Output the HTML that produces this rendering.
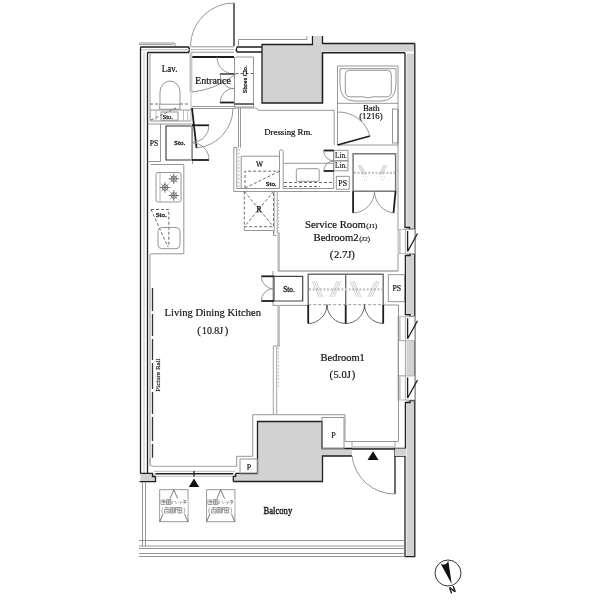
<!DOCTYPE html>
<html><head><meta charset="utf-8">
<style>
html,body{margin:0;padding:0;background:#fff;width:600px;height:600px;overflow:hidden}
svg{display:block;will-change:transform}
text{font-family:"Liberation Serif",serif;fill:#111;stroke:#111;stroke-width:0.2}
.k{stroke:#1e1e1e;stroke-width:1.3;fill:none}
.kb{stroke:#1e1e1e;stroke-width:1.8;fill:none}
.g{stroke:#8a8a8a;stroke-width:0.9;fill:none}
.gl{stroke:#b4b4b4;stroke-width:0.9;fill:none}
.d{stroke:#6a6a6a;stroke-width:1;fill:none;stroke-dasharray:3 2}
.gf{fill:#d2d2d2}
</style></head><body>
<svg width="600" height="600" viewBox="0 0 600 600">
<!-- ===== TOP WALL ===== -->
<g id="top">
  <path class="g" d="M139,43 H175 V46 M139,44.6 H173.5"/>
  <path class="k" d="M140.5,47 H188.5 Q190.5,49.7 188.5,52.5 H147.5"/>
  <path class="gl" d="M141,49.8 H190"/>
  <!-- entry door -->
  <path class="k" d="M234,3 V46"/>
  <path class="g" d="M190.5,46 A43.5,43.5 0 0 1 234,3"/>
  <path class="g" d="M190.5,46.8 H234 M190.5,52.2 H234"/><path class="gl" d="M190.5,49.5 H234"/>
  <path class="kb" d="M192,57 H234"/>
  <!-- right of door -->
  <path class="k" d="M262,47 H237 Q235.5,49.5 237,52 H262"/>
  <path class="g" d="M238.5,46.5 V39.5 H307 V36"/>
  <!-- shaft -->
  <rect class="gf" x="262" y="44.5" width="60.5" height="58.5"/>
  <rect x="313.5" y="36" width="8.5" height="9" fill="#d6d6d6"/>
  <path class="k" d="M312.5,36 V44.5 H262 V103 H322.5 V53"/>
  <rect class="gf" x="322.5" y="44" width="92" height="7.6"/>
  <path class="k" d="M322.5,36 V43.5 H414.8"/>
  <path class="k" d="M322.5,103 V52.75 H405" stroke-width="1.5"/>
</g>
<!-- ===== LEFT WALL ===== -->
<g id="left">
  <path class="k" d="M140.5,47 V473.5"/>
  <path class="k" d="M147.5,52.5 V473.5"/>
  <path class="g" d="M150,52.5 V121 M150,254 V466"/>
  <path class="gl" d="M144,52 V473"/>
  <!-- picture rail -->
  <path stroke="#333" stroke-width="1.3" fill="none" d="M152.5,288 V311 M152.5,314 V336 M152.5,339 V360 M152.5,363 V389 M152.5,392 V414 M152.5,417 V441 M152.5,444 V457.7"/>
  <text font-size="7" transform="translate(160 391.7) rotate(-90)" style="stroke-width:0.15">Picture Rail</text>
  <!-- wall stub bottom-left -->
  <rect class="gf" x="140.5" y="473.5" width="15" height="8.2"/>
  <path class="k" d="M140.3,473.3 H152.5 V476.5 H155.5 V481.7 H139.5" stroke-width="1.4"/>
</g>
<!-- ===== RIGHT WALL ===== -->
<g id="right">
  <rect class="gf" x="406.5" y="53.5" width="7.8" height="503"/>
  <path class="k" d="M414.8,43.5 V556.7 H405 V456" stroke-width="1.4"/>
  <!-- solid sections -->
  <path class="k" d="M405,52.75 V227.5 H409.5 V229.5 H414.8" stroke-width="1.5"/>
  <path class="k" d="M414.8,253.5 H410 V255.5 H405.4 V314.6 H410 V316.7 H414.8" stroke-width="1.4"/>
  <path class="k" d="M414.8,400.5 H410 V402.5 H405.4 V448.5 H395 V456 H405" stroke-width="1.4"/>
  <!-- windows -->
  <g id="win1">
    <rect x="398" y="229.5" width="16.8" height="24" fill="#fff" stroke="#aaa" stroke-width="0.8"/>
    <rect x="398.3" y="230" width="2.4" height="23" fill="#c8c8c8"/>
    <path stroke="#999" stroke-width="0.8" fill="none" d="M405.4,229.5 V253.5"/>
    <path class="k" d="M407.6,231 V251.5 L417.5,233.5" stroke-width="1.4"/>
  </g>
  <g transform="translate(0,87.2)">
    <rect x="398" y="229.5" width="16.8" height="24" fill="#fff" stroke="#aaa" stroke-width="0.8"/>
    <rect x="398.3" y="230" width="2.4" height="23" fill="#c8c8c8"/>
    <path stroke="#999" stroke-width="0.8" fill="none" d="M405.4,229.5 V253.5"/>
    <path class="k" d="M407.6,231 V251.5 L417.5,233.5" stroke-width="1.4"/>
  </g>
  <rect x="398" y="340.8" width="7.4" height="35" fill="#fff" stroke="#aaa" stroke-width="0.8"/>
  <path stroke="#aaa" stroke-width="0.8" fill="none" d="M405.4,340.8 V375.8 M414.8,340.8 V375.8"/>
  <g transform="translate(0,146.5)">
    <rect x="398" y="229.5" width="16.8" height="24" fill="#fff" stroke="#aaa" stroke-width="0.8"/>
    <rect x="398.3" y="230" width="2.4" height="23" fill="#c8c8c8"/>
    <path stroke="#999" stroke-width="0.8" fill="none" d="M405.4,229.5 V253.5"/>
    <path class="k" d="M407.6,231 V251.5 L417.5,233.5" stroke-width="1.4"/>
  </g>
</g>
<!-- ===== BOTTOM: LDK wall / pillar / balcony ===== -->
<g id="bottom">
  <rect class="gf" x="257.5" y="421.5" width="64.5" height="60"/>
  <rect class="gf" x="234" y="474" width="24" height="7.5"/>
  <rect class="gf" x="322" y="448.5" width="30" height="7.5"/>
  <rect class="gf" x="395" y="448.5" width="11" height="7.5"/>
  <path class="k" d="M235.7,473.4 H257.5 V421.5 H322 V448.5 H352" stroke-width="1.4"/>
  <path class="k" d="M233.3,481.5 H322.5 V456 H352" stroke-width="1.4"/>
  <path class="k" d="M235.7,473.4 V476.3 H233.3 V481.5" stroke-width="1.4"/>
  <path stroke="#222" stroke-width="1.4" fill="none" d="M155.5,473.8 H233.3"/>
  <path stroke="#999" stroke-width="0.9" fill="none" d="M150,458 V463.5 Q150,466.3 153,466.3 H236.7"/>
  <path stroke="#aaa" stroke-width="0.8" fill="none" d="M154,471.3 H235 M155.5,476.3 H233"/>
  <path class="k" d="M194,471 V476.5" stroke-width="1.1"/>
  <path fill="#111" d="M194,478.5 L188.8,487 L199.2,487 Z"/>
  <!-- P boxes -->
  <rect x="240" y="459" width="17.5" height="15" fill="#fff" class="g"/>
  <text x="249" y="470" font-size="8" text-anchor="middle" style="stroke-width:0.2">P</text>
  <rect x="322" y="417.5" width="22" height="31" fill="#fff" class="g"/>
  <text x="333.5" y="437.5" font-size="8" text-anchor="middle" style="stroke-width:0.2">P</text>
  <path class="g" d="M236.7,466.3 V456.3 H252.7 V414.7 H345 V441.5"/>
  <!-- Bedroom1 bottom sill -->
  <path class="g" d="M345,441.5 H398.5"/>
  <path stroke="#999" stroke-width="0.9" fill="none" d="M352,442 V448 H395 V442"/>
  <path stroke="#bbb" stroke-width="0.8" fill="none" d="M353,446.5 H394"/>
  <path stroke="#222" stroke-width="1.3" fill="none" d="M352,449 H395"/>
  <!-- balcony door -->
  <path class="k" d="M395,456 V494" stroke-width="1.4"/>
  <path class="g" d="M352,456 A43,43 0 0 0 395,494" stroke="#666"/>
  <path fill="#111" d="M373,451.3 L367.5,460 L378.5,460 Z"/>
  <!-- balcony -->
  <path class="g" d="M142.5,482 V546 M145.5,482 V546"/>
  <path class="g" d="M139,540.5 H405 M139,546 H405 M139,548.5 H405 M139,553.5 H405 M139,556.5 H405"/>
  <text x="263.6" y="514.3" font-size="9.6" textLength="28.6" lengthAdjust="spacingAndGlyphs" style="stroke-width:0.35">Balcony</text>
  <!-- hatches -->
  <rect x="159.7" y="489.7" width="28.3" height="32" fill="none" stroke="#8c8c8c" stroke-width="0.9"/>
  <path d="M159.7,521.7 L173.8,489.9 L188.0,521.7" fill="none" stroke="#555" stroke-width="0.8"/>
  <rect x="160.5" y="498.5" width="27" height="15.5" fill="#fff"/>
  <g fill="none" stroke="#7a7a7a" stroke-width="0.7">
  <path d="M161.0,499.5 v5 h4.5 M162.0,500 h3 v3 h-2 v-3 M162.0,501.5 h3"/>
  <path d="M166.5,499.5 h4.5 v5 h-4.5 z M166.5,501.2 h4.5 M166.5,502.9 h4.5 M168.7,499.5 v5"/>
  <path d="M173.0,501 l-1.2,3 M175.0,501 l1.5,3" stroke-width="0.6"/>
  <path d="M178.0,502 l0.6,1 M179.5,501.5 l0.6,1 M181.3,501 q0.5,2 -1.5,3.5" stroke-width="0.6"/>
  <path d="M183.0,500.5 h3 q0,2 -2,4 M182.5,502.5 h4 M184.5,500 v2" stroke-width="0.6"/>
  <path d="M162.5,507.5 q-1.5,3 0,6" stroke-width="0.6"/>
  <path d="M164.5,507.8 h4.5 M166.7,507 v1.5 M164.5,509.5 h4.5 v3.5 h-4.5 z M165.5,511.3 h2.5"/>
  <path d="M170.0,507.5 h4.5 v5.5 h-4.5 z M170.0,509.3 h4.5 M170.0,511.1 h4.5 M172.2,507.5 v5.5"/>
  <path d="M175.5,507.5 v5.5 M175.5,507.5 h1.8 v2 h-1.8 M177.8,507.5 h4 v5.5 h-4 z M177.8,510.2 h4 M179.8,507.5 v5.5"/>
  <path d="M184.0,507.5 q1.5,3 0,6" stroke-width="0.6"/>
  </g>
  <rect x="206.6" y="489.7" width="28.3" height="32" fill="none" stroke="#8c8c8c" stroke-width="0.9"/>
  <path d="M206.6,521.7 L220.7,489.9 L234.9,521.7" fill="none" stroke="#555" stroke-width="0.8"/>
  <rect x="207.4" y="498.5" width="27" height="15.5" fill="#fff"/>
  <g fill="none" stroke="#7a7a7a" stroke-width="0.7">
  <path d="M207.9,499.5 v5 h4.5 M208.9,500 h3 v3 h-2 v-3 M208.9,501.5 h3"/>
  <path d="M213.4,499.5 h4.5 v5 h-4.5 z M213.4,501.2 h4.5 M213.4,502.9 h4.5 M215.6,499.5 v5"/>
  <path d="M219.9,501 l-1.2,3 M221.9,501 l1.5,3" stroke-width="0.6"/>
  <path d="M224.9,502 l0.6,1 M226.4,501.5 l0.6,1 M228.2,501 q0.5,2 -1.5,3.5" stroke-width="0.6"/>
  <path d="M229.9,500.5 h3 q0,2 -2,4 M229.4,502.5 h4 M231.4,500 v2" stroke-width="0.6"/>
  <path d="M209.4,507.5 q-1.5,3 0,6" stroke-width="0.6"/>
  <path d="M211.4,507.8 h4.5 M213.6,507 v1.5 M211.4,509.5 h4.5 v3.5 h-4.5 z M212.4,511.3 h2.5"/>
  <path d="M216.9,507.5 h4.5 v5.5 h-4.5 z M216.9,509.3 h4.5 M216.9,511.1 h4.5 M219.1,507.5 v5.5"/>
  <path d="M222.4,507.5 v5.5 M222.4,507.5 h1.8 v2 h-1.8 M224.7,507.5 h4 v5.5 h-4 z M224.7,510.2 h4 M226.7,507.5 v5.5"/>
  <path d="M230.9,507.5 q1.5,3 0,6" stroke-width="0.6"/>
  </g>
</g>
<!-- ===== TOP-LEFT: Lav / Entrance / Sto / kitchen ===== -->
<g id="tl">
  <!-- Lav right wall -->
  <rect x="189.4" y="53" width="3" height="39" fill="#c6c6c6"/>
  <path class="g" d="M192,92 Q215,90 236,74"/>
  <!-- toilet -->
  <path class="g" d="M160,104 V92 A10,11 0 0 1 180,92 V104" stroke-width="1"/>
  <rect x="159.7" y="104.2" width="20.2" height="5" class="g"/>
  <path class="d" d="M150,104 H159.5 M180,104 H190" stroke-width="0.8"/>
  <path class="g" d="M150,110 H191 M150,121 H191"/>
  <path class="gl" d="M150.5,110 V121 M156,110 V121 M183.5,110 V121 M187.7,110 V121 M191,92 V121"/>
  <rect x="161" y="112" width="17" height="8.2" fill="#fff" class="g"/>
  <text x="167.7" y="118.6" font-size="6.6" text-anchor="middle" style="stroke-width:0.25">Sto.</text>
  <path class="d" d="M151,120 L176,108" stroke-width="0.7"/>
  <!-- shoes closet doors -->
  <path class="kb" d="M217,57 H234" stroke-width="1.5"/>
  <path class="g" d="M217,57 A17,17 0 0 0 234,74"/>
  <path class="k" d="M220,74 H234.5"/>
  <path class="d" d="M235.5,73.5 H253" stroke-width="0.7" stroke-dasharray="2 1.5"/>
  <path class="g" d="M220,74 A15,15 0 0 0 235,89"/>
  <path class="kb" d="M220,102.5 H234" stroke-width="1.5"/>
  <path class="g" d="M220,102.5 A15,15 0 0 1 235,88"/>
  <!-- shoes closet -->
  <path class="g" d="M234.5,57 V107 M235.5,57 H253.5 V107 H234.5"/>
  <text font-size="6.4" text-anchor="middle" transform="translate(246.6 79.3) rotate(-90)" style="stroke-width:0.25">Shoes Clo.</text>
  <!-- entrance step -->
  <path class="g" d="M192,106.5 H236 M192,108.5 H236"/>
  <!-- hall door -->
  <path class="kb" d="M192,108 L196.5,148" stroke-width="1.5"/>
  <path class="g" d="M196.5,148 A40,40 0 0 0 233,108"/>
  <!-- PS / Sto boxes -->
  <path class="g" d="M147.5,124 H192.5 V164 M147.5,161.5 H160.5 V124"/>
  <text x="153.9" y="145.8" font-size="7.6" text-anchor="middle" style="stroke-width:0.2">PS</text>
  <path d="M191.7,126 H166 V160 H191.7" fill="none" stroke="#333" stroke-width="1.1"/><path d="M191.7,126 V160" class="g"/>
  <text x="179.6" y="145" font-size="7" text-anchor="middle" style="stroke-width:0.3">Sto.</text>
  <path class="kb" d="M192,125.3 H209" stroke-width="1.5"/>
  <path class="g" d="M209,125.3 A16.5,16.5 0 0 1 193,142"/>
  <path class="kb" d="M192,160 H209" stroke-width="1.5"/>
  <path class="g" d="M209,160 A16.5,16.5 0 0 0 193,143"/>
  <!-- kitchen counter -->
  <path class="g" d="M150.5,253.8 H183.8 V164.5 H150.5"/>
  <rect x="156" y="172.5" width="25" height="29.5" rx="2" class="g"/>
  <path class="gl" d="M160,173 V201.5"/>
  <g stroke="#555" stroke-width="0.8" fill="none">
    <circle cx="173.8" cy="178.8" r="2.8"/><circle cx="165" cy="187.5" r="2.8"/><circle cx="173.8" cy="195.5" r="2.8"/>
    <path d="M173.8,173.5 V184 M168.5,178.8 H179 M165,182.2 V192.8 M159.7,187.5 H170.3 M173.8,190.2 V200.8 M168.5,195.5 H179"/>
    <path d="M170,175 L177.6,182.6 M177.6,175 L170,182.6 M161.2,183.7 L168.8,191.3 M168.8,183.7 L161.2,191.3 M170,191.7 L177.6,199.3 M177.6,191.7 L170,199.3" stroke-width="0.6"/>
  </g>
  <path class="d" d="M151,209.5 H168.8 V247 M151,209.5 L168,247" stroke-width="0.8"/>
  <text x="161.2" y="216.8" font-size="7" text-anchor="middle" style="stroke-width:0.3">Sto.</text>
  <rect x="158" y="227.5" width="22" height="21.2" rx="4" class="g" stroke-width="1"/>
</g>
<!-- ===== DRESSING AREA ===== -->
<g id="dress">
  <path class="k" d="M234.5,104 H253.5" stroke-width="1.1"/>
  <path class="g" d="M236,108 H256.5 L258,110.3 H334.2 V145 M337.5,110.3 V145 H398"/>
  <path class="g" d="M238.5,108 V147.5 M240.5,108 V147.5"/>
  <!-- closet U -->
  <path class="g" d="M233.8,147.5 V191.5 H350 M236.8,147.5 V188.5 H241.2 M233.8,147.5 H236.8"/>
  <path d="M239,149 V188" fill="none" stroke="#9a9a9a" stroke-width="0.7" stroke-dasharray="2 1.6"/>
  <path class="g" d="M241.2,188.5 V156.2 H279.5 M241.2,188.5 H279.5"/>
  <path class="g" d="M279.5,188.5 V151.5 A1.8,1.8 0 0 1 283.2,151.5 V188.5 H334"/>
  <text x="259.5" y="166.5" font-size="7.5" text-anchor="middle">W</text>
  <path class="d" d="M245,188 V171.2 H279.5 M245,188 L279.5,171.2" stroke-width="0.8"/>
  <text x="271.2" y="185.6" font-size="6.8" text-anchor="middle" style="stroke-width:0.3">Sto.</text>
  <!-- right counter -->
  <path class="g" d="M283.2,163.3 H333.7 M333.7,150.3 V188.5"/>
  <rect x="296.3" y="168.7" width="22.9" height="12.6" rx="1.5" class="g"/>
  <path class="d" d="M284,182.5 H333" stroke-width="0.9"/>
  <path class="d" d="M284,186.5 H320" stroke-width="0.5" stroke="#aaa"/>
  <!-- Lin boxes -->
  <rect x="333.7" y="150.3" width="14.3" height="10.5" class="g"/>
  <rect x="333.7" y="160.8" width="14.3" height="10" class="g"/>
  <text x="335" y="158" font-size="7.8" textLength="11.8" lengthAdjust="spacingAndGlyphs" style="stroke-width:0.15">Lin.</text>
  <text x="335" y="168" font-size="7.8" textLength="11.8" lengthAdjust="spacingAndGlyphs" style="stroke-width:0.15">Lin.</text>
  <path class="kb" d="M323.7,150.5 H333.7" stroke-width="1.5"/>
  <path class="g" d="M323.7,150.5 A10.5,10.5 0 0 0 333.7,161"/>
  <path class="kb" d="M323.7,171 H333.7" stroke-width="1.5"/>
  <path class="g" d="M323.7,171 A10,10 0 0 1 333.7,161"/>
  <rect x="336.3" y="176.3" width="12.9" height="12.9" class="g"/>
  <text x="342.7" y="186" font-size="7.8" text-anchor="middle" style="stroke-width:0.2">PS</text>
  <!-- R box -->
  <path class="d" d="M244.3,191.5 V226.7 H273.5 V191.5 M244.3,191.5 L273.5,226.7 M273.5,191.5 L244.3,226.7" stroke-width="0.9"/>
  <text x="259" y="212" font-size="7.5" text-anchor="middle" style="stroke-width:0.25">R</text>
  <path class="g" d="M244.3,226.7 V230.5 H273.5 V235.5 H276.5"/>
  <!-- partition LDK / Bedroom2 -->
  <path stroke="#9a9a9a" stroke-width="0.9" fill="none" d="M274.2,191.5 V233.5 M277.2,191.5 V233 H280"/>
  <rect x="277.4" y="233" width="2.6" height="38" fill="#c2c2c2"/>
  <path stroke="#999" stroke-width="1.1" stroke-dasharray="1 2.4" fill="none" d="M278.6,200 V231"/>
  <!-- bath -->
  <path class="g" d="M337.5,66 H398 V145 M337.5,66 V110"/>
  <path class="g" d="M337.7,103.3 H398.4 M340,68.7 H396"/>
  <path class="g" d="M340,68.7 V84 Q340,101 355,101 H381 Q396,101 396,84 V68.7"/>
  <path class="g" d="M349.3,70.3 H387.3 Q391.3,70.3 391.3,74.3 V91.8 Q391.3,96.8 386.3,96.8 H373 Q368,99.2 363,96.8 H350.3 Q345.3,96.8 345.3,91.8 V74.3 Q345.3,70.3 349.3,70.3 Z"/>
  <rect x="392.5" y="109" width="5.5" height="34" class="g"/>
  <path class="kb" d="M337.5,145 L370,136" stroke-width="1.5"/>
  <path class="g" d="M337.5,112 A33,33 0 0 1 370,136"/>
</g>
<!-- ===== BEDROOMS ===== -->
<g id="beds">
  <!-- Bedroom2 closet -->
  <rect x="353.1" y="153.8" width="42.5" height="37.4" fill="none" stroke="#6e6e6e" stroke-width="1.4"/>
  <path stroke="#c4c4c4" stroke-width="2.2" stroke-dasharray="2 1.6" fill="none" d="M354,172.8 H395"/>
  <g stroke="#b0b0b0" stroke-width="0.6" fill="none">
    <path d="M358,165 L363,175 M359.5,165 L364.5,175 M361,165 L366,175 M384,165 L379,175 M385.5,165 L380.5,175 M387,165 L382,175"/>
    <path d="M363,177 H369 M364,180 H368 M380,177 H386 M381,180 H385" stroke-dasharray="1 1"/>
  </g>
  <path class="kb" d="M353.1,191.2 V213" stroke-width="1.5"/>
  <path class="g" d="M353.1,213 A22,22 0 0 0 374.5,191.2" stroke="#555"/>
  <path class="kb" d="M395.6,191.2 L393.5,213" stroke-width="1.5"/>
  <path class="g" d="M393.5,213 A22,22 0 0 1 374.5,191.2" stroke="#555"/>
  <path class="g" d="M398,110 V229 M398,254 V271 M398.5,305 V441 M383.2,305 H398.5"/>
  <path stroke="#a8a8a8" stroke-width="1.5" fill="none" d="M278,271 H398"/>
  <!-- Sto (LDK side) -->
  <path class="g" d="M273,271 V305.4 H308"/>
  <path stroke="#444" stroke-width="1.2" fill="none" d="M274,276.3 H302.7 V301 H274 Z"/>
  <text x="289" y="291.7" font-size="7.2" text-anchor="middle" style="stroke-width:0.3">Sto.</text>
  <path class="kb" d="M261.3,276.3 H274" stroke-width="1.5"/>
  <path class="g" d="M261.3,276.3 A12.7,12.7 0 0 0 274,289" stroke="#555"/>
  <path class="kb" d="M261.3,301 H274" stroke-width="1.5"/>
  <path class="g" d="M261.3,301 A12.5,12.5 0 0 1 274,288.5" stroke="#555"/>
  <!-- partition LDK/Bedroom1 -->
  <rect x="277.2" y="305.5" width="2.8" height="40.5" fill="#c2c2c2"/>
  <path stroke="#9a9a9a" stroke-width="0.9" fill="none" d="M280,346 H273.3 V414.7 M276.7,346.5 V414.7"/>
  <path stroke="#999" stroke-width="1.1" stroke-dasharray="1 2.4" fill="none" d="M278.4,348 V388"/>
  <!-- Bedroom1 closets -->
  <path stroke="#6e6e6e" stroke-width="1.4" fill="none" d="M308.2,304.7 V274.3 H383.2 V304.7 M345.7,274.3 V304.7"/>
  <path stroke="#999" stroke-width="1" stroke-dasharray="3 2" fill="none" d="M308.2,304.7 H383.2"/>
  <path stroke="#c4c4c4" stroke-width="2.2" stroke-dasharray="2 1.6" fill="none" d="M309,289.3 H383"/>
  <g stroke="#b0b0b0" stroke-width="0.6" fill="none">
    <path d="M312,281 L319,297 M314,281 L321,297 M316,281 L323,297 M341,281 L334,297 M339,281 L332,297 M337,281 L330,297"/>
    <path d="M350,281 L357,297 M352,281 L359,297 M354,281 L361,297 M379,281 L372,297 M377,281 L370,297 M375,281 L368,297"/>
  </g>
  <g stroke="#555" stroke-width="0.9" fill="none">
    <path d="M308.2,323.5 A19,19 0 0 0 327,304.7 M345.7,323.5 A19,19 0 0 1 327,304.7"/>
    <path d="M345.7,323.5 A19,19 0 0 0 364.5,304.7 M383.2,323.5 A19,19 0 0 1 364.5,304.7"/>
    <path d="M327,304.7 V309 M364.5,304.7 V309"/>
  </g>
  <path class="kb" d="M308.2,304.7 V323.5 M345.7,304.7 V323.5 M383.2,304.7 V323.5" stroke-width="1.4"/>
  <!-- Bedroom1 PS -->
  <rect x="388.3" y="274.7" width="16.2" height="27" class="g"/>
  <text x="396.8" y="291" font-size="7.8" text-anchor="middle" style="stroke-width:0.2">PS</text>
</g>
<!-- ===== TEXT ===== -->
<g id="labels" style="stroke-width:0.5">
  <text x="164.5" y="316" font-size="10.6">Living Dining Kitchen</text>
  <text y="333.8" font-size="10.6"><tspan x="197.3">(</tspan><tspan x="202" textLength="21" lengthAdjust="spacingAndGlyphs">10.8J</tspan><tspan x="224.8">)</tspan></text>
  <text x="320.5" y="361" font-size="10.5">Bedroom1</text>
  <text y="378.3" font-size="10.5"><tspan x="329.4">(</tspan><tspan x="333.5">5.0J</tspan><tspan x="351.8">)</tspan></text>
  <text x="305" y="227.6" font-size="10.7">Service Room<tspan font-size="7" dx="0.5" dy="0">(J1)</tspan></text>
  <text x="313.5" y="241" font-size="10.7">Bedroom2<tspan font-size="7" dx="0.5">(J2)</tspan></text>
  <text y="258" font-size="10.7"><tspan x="329.8">(</tspan><tspan x="334">2.7J</tspan><tspan x="351.3">)</tspan></text>
  <text x="264.3" y="135.2" font-size="8.75">Dressing Rm.</text>
  <text x="195" y="84" font-size="10.1">Entrance</text>
  <text x="161.8" y="71.6" font-size="9.4" textLength="15.6" lengthAdjust="spacingAndGlyphs">Lav.</text>
  <text x="363" y="110.8" font-size="8.8">Bath</text>
  <text x="359.2" y="118.8" font-size="8.8">(1216)</text>
</g>
<!-- compass -->
<g id="compass">
  <circle cx="448" cy="573" r="13" fill="none" stroke="#333" stroke-width="1"/>
  <path fill="#111" d="M440.7,563.7 Q445.5,566.5 448.3,560.7 L451.7,584 Z"/>
  <text x="0" y="0" font-size="8.5" font-weight="bold" text-anchor="middle" transform="translate(453.5 592.5) rotate(-20)" style="font-family:'Liberation Sans',sans-serif;stroke-width:0.3">N</text>
</g>
</svg>
</body></html>
